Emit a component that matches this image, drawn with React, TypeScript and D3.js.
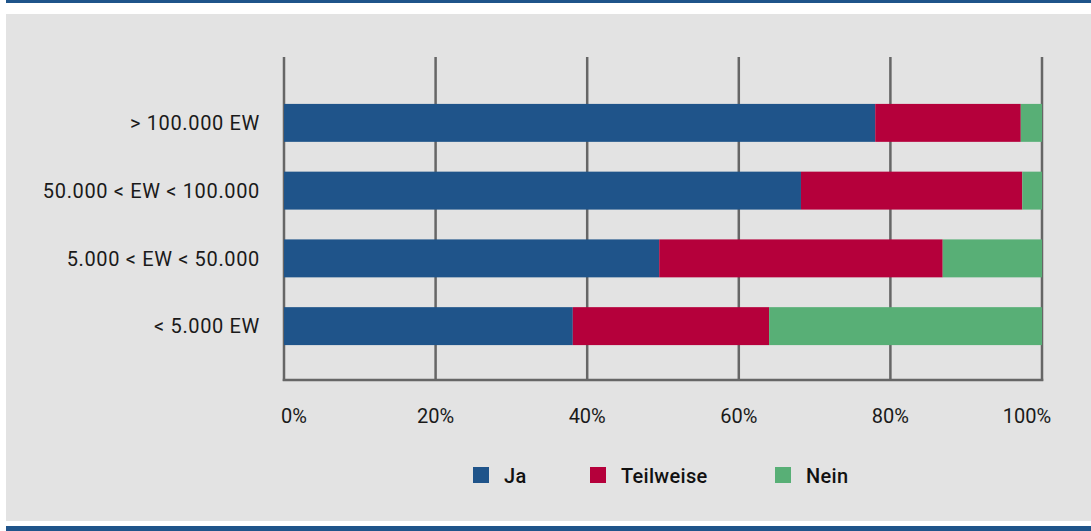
import React from "react";
import * as d3 from "d3";

const categories = ["> 100.000 EW", "50.000 < EW < 100.000", "5.000 < EW < 50.000", "< 5.000 EW"];
const seriesNames = ["Ja", "Teilweise", "Nein"];
const ja = [78.0, 68.2, 49.5, 38.1];
const teilweise = [19.2, 29.2, 37.4, 25.9];
const nein = [2.8, 2.6, 13.1, 36.0];
const tickValues = [0, 20, 40, 60, 80, 100];
const tickLabels = ["0%", "20%", "40%", "60%", "80%", "100%"];
const colors = ["#1f548a", "#b5003b", "#58af76"];

const W = 1091;
const H = 531;
const FONT = "Roboto, 'DejaVu Sans', sans-serif";

export default function App() {
  const x = d3.scaleLinear().domain([0, 100]).range([284, 1042]);
  const y = d3.scaleBand<string>().domain(categories).range([89, 360]).paddingInner(0.44).paddingOuter(0.22);

  const rows = categories.map((c, i) => ({ c, Ja: ja[i], Teilweise: teilweise[i], Nein: nein[i] }));
  const stack = d3.stack<any>().keys(seriesNames)(rows);

  const labelDx = [10, 0, 0, 0, 0, -15];
  const legendX = [473, 590, 775];

  return (
    <div style={{ position: "absolute", left: 0, top: 0 }}>
      <svg width={W} height={H} style={{ display: "block" }}>
        <rect x={0} y={0} width={W} height={H} fill="#ffffff" />
        <rect x={6} y={0} width={W - 6} height={3} fill="#1f548a" />
        <rect x={6} y={14} width={W - 6} height={507} fill="#e3e3e3" />
        <rect x={6} y={526} width={W - 6} height={5} fill="#1f548a" />

        {tickValues.map((t) => (
          <line key={t} x1={x(t)} x2={x(t)} y1={57} y2={381} stroke="#666" strokeWidth={2.5} />
        ))}
        <line x1={x(0) - 1.25} x2={x(100) + 1.25} y1={380} y2={380} stroke="#666" strokeWidth={2.5} />

        {stack.map((s, si) =>
          s.map((d: any, i: number) => (
            <rect
              key={si + "-" + i}
              x={x(d[0])}
              y={y(categories[i])}
              width={x(d[1]) - x(d[0])}
              height={y.bandwidth()}
              fill={colors[si]}
            />
          ))
        )}

        {categories.map((c) => (
          <text
            key={c}
            x={260}
            y={(y(c) as number) + y.bandwidth() / 2}
            dy="0.36em"
            textAnchor="end"
            fontFamily={FONT}
            fontSize={20}
            letterSpacing={0.65}
            fill="#1a1a1a"
          >
            {c}
          </text>
        ))}

        {tickValues.map((t, i) => (
          <text
            key={"l" + t}
            x={x(t) + labelDx[i]}
            y={423}
            textAnchor="middle"
            fontFamily={FONT}
            fontSize={20}
            fill="#1a1a1a"
          >
            {tickLabels[i]}
          </text>
        ))}

        {seriesNames.map((n, i) => (
          <g key={n}>
            <rect x={legendX[i]} y={467} width={16} height={16} fill={colors[i]} />
            <text x={legendX[i] + 31} y={483} fontFamily={FONT} fontSize={20} fontWeight={500} letterSpacing={0.3} fill="#111">
              {n}
            </text>
          </g>
        ))}
      </svg>
    </div>
  );
}
